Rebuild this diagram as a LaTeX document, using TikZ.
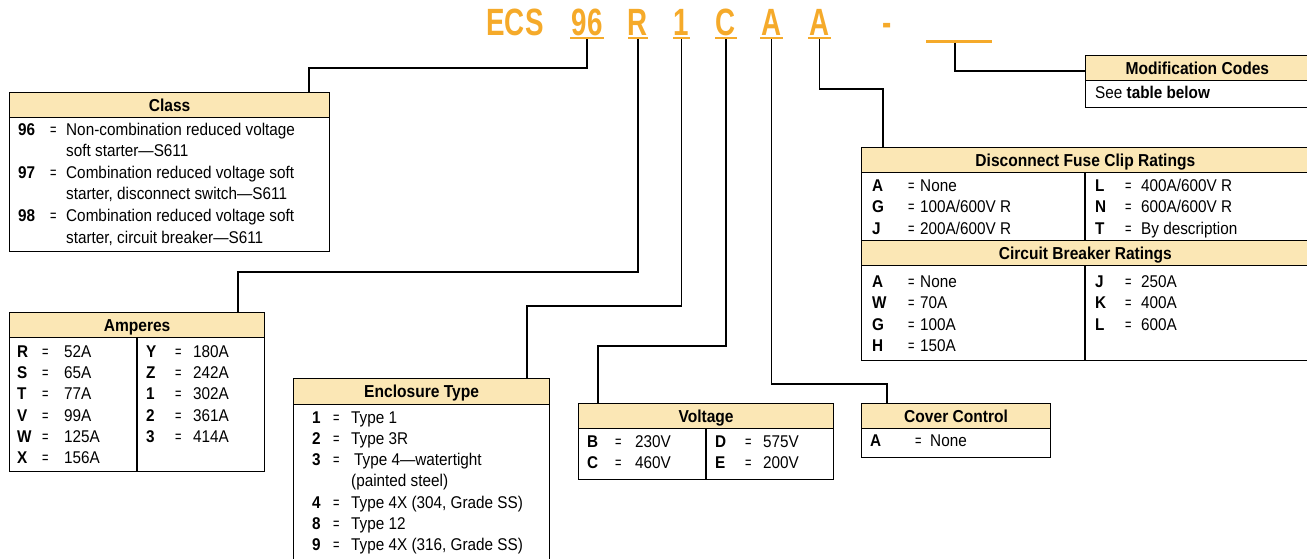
\documentclass[tikz,border=0pt]{standalone}
\usepackage{fontspec}
\usepackage{graphicx}
\setmainfont{Liberation Sans}[FakeStretch=0.9]
\newfontfamily\titlefont{Liberation Sans}[FakeStretch=0.73]
\definecolor{hdrfill}{RGB}{251,231,181}
\definecolor{ecsorange}{RGB}{245,170,42}
\newcommand\kvrow[4]{\makebox[#2pt][l]{\bfseries #1}\makebox[#3pt][l]{\scalebox{0.72}[1]{=}}#4}
\begin{document}
\begin{tikzpicture}[x=1pt,y=-1pt,
  every node/.style={font=\fontsize{17}{20}\selectfont},
  boxshape/.style={draw, line width=1.2pt, inner sep=0pt, anchor=north west},
  hdr/.style={draw, fill=hdrfill, line width=1.2pt, inner sep=0pt, anchor=north west,
    minimum height=25pt, text height=12pt, text depth=0pt, font=\fontsize{17.3}{20}\selectfont\bfseries},
  rowtext/.style={anchor=base west, inner sep=0pt},
  ttl/.style={anchor=base, inner sep=0pt, text=ecsorange, font=\titlefont\fontsize{38}{42}\selectfont\bfseries},
  uline/.style={fill=ecsorange, draw=none, inner sep=0pt, minimum height=2.2pt},
  conn/.style={line width=1.8pt},
  divider/.style={line width=1.2pt}]
\useasboundingbox (0,0) rectangle (1307,558);

% ---------- title ----------
\node[ttl] (tECS) at (515,35) {ECS};
\node[ttl] (t96) at (587,35) {96};
\node[ttl] (tR) at (638,35) {R};
\node[ttl] (t1) at (681.5,35) {1};
\node[ttl] (tC) at (726,35) {C};
\node[ttl] (tA1) at (771.5,35) {A};
\node[ttl] (tA2) at (819.5,35) {A};
\node[ttl] (tdash) at (887.5,35) {-};
\node[uline, minimum width=34pt] (u96) at (587,38) {};
\node[uline, minimum width=20pt] (uR) at (638,38) {};
\node[uline, minimum width=17pt] (u1) at (681.5,38) {};
\node[uline, minimum width=22pt] (uC) at (726,38) {};
\node[uline, minimum width=23pt] (uA1) at (771.5,38) {};
\node[uline, minimum width=23pt] (uA2) at (819.5,38) {};
\node[uline, minimum width=66pt, minimum height=3pt] (uM) at (959,41) {};

% ---------- Class ----------
\node[boxshape, minimum width=320pt, minimum height=159pt] (class) at (9,92) {};
\node[hdr, minimum width=320pt] (classh) at (9,92) {Class};
\node[rowtext] (cl1) at (18,135) {\kvrow{96}{32}{16}{Non-combination reduced voltage}};
\node[rowtext] (cl1b) at (66,156.6) {soft starter—S611};
\node[rowtext] (cl2) at (18,178.2) {\kvrow{97}{32}{16}{Combination reduced voltage soft}};
\node[rowtext] (cl2b) at (66,199.8) {starter, disconnect switch—S611};
\node[rowtext] (cl3) at (18,221.4) {\kvrow{98}{32}{16}{Combination reduced voltage soft}};
\node[rowtext] (cl3b) at (66,243) {starter, circuit breaker—S611};

% ---------- Amperes ----------
\node[boxshape, minimum width=255pt, minimum height=159pt] (amps) at (9,312) {};
\node[hdr, minimum width=255pt] (ampsh) at (9,312) {Amperes};
\draw[divider] (137,337) -- (137,471);
\node[rowtext] (am1) at (17,357.5) {\kvrow{R}{25}{22}{52A}};
\node[rowtext] (am2) at (17,378.7) {\kvrow{S}{25}{22}{65A}};
\node[rowtext] (am3) at (17,399.9) {\kvrow{T}{25}{22}{77A}};
\node[rowtext] (am4) at (17,421.1) {\kvrow{V}{25}{22}{99A}};
\node[rowtext] (am5) at (17,442.3) {\kvrow{W}{25}{22}{125A}};
\node[rowtext] (am6) at (17,463.5) {\kvrow{X}{25}{22}{156A}};
\node[rowtext] (am7) at (146,357.5) {\kvrow{Y}{29}{18}{180A}};
\node[rowtext] (am8) at (146,378.7) {\kvrow{Z}{29}{18}{242A}};
\node[rowtext] (am9) at (146,399.9) {\kvrow{1}{29}{18}{302A}};
\node[rowtext] (am10) at (146,421.1) {\kvrow{2}{29}{18}{361A}};
\node[rowtext] (am11) at (146,442.3) {\kvrow{3}{29}{18}{414A}};

% ---------- Enclosure Type ----------
\node[boxshape, minimum width=256pt, minimum height=200pt] (encl) at (293,378) {};
\node[hdr, minimum width=256pt, minimum height=26pt] (enclh) at (293,378) {Enclosure Type};
\node[rowtext] (en1) at (312,423) {\kvrow{1}{21}{18}{Type 1}};
\node[rowtext] (en2) at (312,444.3) {\kvrow{2}{21}{18}{Type 3R}};
\node[rowtext] (en3) at (312,465.6) {\kvrow{3}{21}{21}{Type 4—watertight}};
\node[rowtext] (en3b) at (351,486.9) {(painted steel)};
\node[rowtext] (en4) at (312,508.2) {\kvrow{4}{21}{18}{Type 4X (304, Grade SS)}};
\node[rowtext] (en5) at (312,529.5) {\kvrow{8}{21}{18}{Type 12}};
\node[rowtext] (en6) at (312,550.8) {\kvrow{9}{21}{18}{Type 4X (316, Grade SS)}};

% ---------- Voltage ----------
\node[boxshape, minimum width=255pt, minimum height=76pt] (volt) at (578,403) {};
\node[hdr, minimum width=255pt] (volth) at (578,403) {Voltage};
\draw[divider] (706,428) -- (706,479);
\node[rowtext] (vo1) at (587,447) {\kvrow{B}{28}{20}{230V}};
\node[rowtext] (vo2) at (587,468) {\kvrow{C}{28}{20}{460V}};
\node[rowtext] (vo3) at (715,447) {\kvrow{D}{30}{18}{575V}};
\node[rowtext] (vo4) at (715,468) {\kvrow{E}{30}{18}{200V}};

% ---------- Cover Control ----------
\node[boxshape, minimum width=189pt, minimum height=54pt] (cover) at (861,403) {};
\node[hdr, minimum width=189pt] (coverh) at (861,403) {Cover Control};
\node[rowtext] (co1) at (870,446) {\kvrow{A}{45}{15}{None}};

% ---------- Disconnect / Circuit breaker ----------
\node[boxshape, minimum width=447.5pt, minimum height=213pt] (disc) at (861,147) {};
\node[hdr, minimum width=447.5pt] (disch) at (861,147) {Disconnect Fuse Clip Ratings};
\node[hdr, minimum width=447.5pt] (cbh) at (861,240) {Circuit Breaker Ratings};
\draw[divider] (1085,172) -- (1085,240);
\draw[divider] (1085,265) -- (1085,360);
\node[rowtext] (di1) at (872,191.5) {\kvrow{A}{36}{12}{None}};
\node[rowtext] (di2) at (872,212.8) {\kvrow{G}{36}{12}{100A/600V R}};
\node[rowtext] (di3) at (872,234.1) {\kvrow{J}{36}{12}{200A/600V R}};
\node[rowtext] (di4) at (1095,191.5) {\kvrow{L}{30}{16}{400A/600V R}};
\node[rowtext] (di5) at (1095,212.8) {\kvrow{N}{30}{16}{600A/600V R}};
\node[rowtext] (di6) at (1095,234.1) {\kvrow{T}{30}{16}{By description}};
\node[rowtext] (cb1) at (872,287.5) {\kvrow{A}{36}{12}{None}};
\node[rowtext] (cb2) at (872,308.8) {\kvrow{W}{36}{12}{70A}};
\node[rowtext] (cb3) at (872,330.1) {\kvrow{G}{36}{12}{100A}};
\node[rowtext] (cb4) at (872,351.4) {\kvrow{H}{36}{12}{150A}};
\node[rowtext] (cb5) at (1095,287.5) {\kvrow{J}{30}{16}{250A}};
\node[rowtext] (cb6) at (1095,308.8) {\kvrow{K}{30}{16}{400A}};
\node[rowtext] (cb7) at (1095,330.1) {\kvrow{L}{30}{16}{600A}};

% ---------- Modification Codes ----------
\node[boxshape, minimum width=223.5pt, minimum height=52pt] (mod) at (1085,55) {};
\node[hdr, minimum width=223.5pt] (modh) at (1085,55) {Modification Codes};
\node[rowtext] (mo1) at (1095,98) {See \textbf{table below}};

% ---------- connectors ----------
\coordinate (k96) at (309,68);
\coordinate (kR) at (238,272);
\coordinate (k1) at (527,306);
\coordinate (kC) at (598,346);
\coordinate (kA1) at (887,384);
\coordinate (kA2) at (883,89);
\coordinate (kM) at (1085,71);
\coordinate (sM) at (955,42.5);
\draw[conn] (u96.south) |- (k96) -- (k96 |- classh.north);
\draw[conn] (uR.south) |- (kR) -- (kR |- ampsh.north);
\draw[conn] (u1.south) |- (k1) -- (k1 |- enclh.north);
\draw[conn] (uC.south) |- (kC) -- (kC |- volth.north);
\draw[conn] (uA1.south) |- (kA1) -- (kA1 |- coverh.north);
\draw[conn] (uA2.south) |- (kA2) -- (kA2 |- disch.north);
\draw[conn] (sM) |- (kM);
\end{tikzpicture}
\end{document}
